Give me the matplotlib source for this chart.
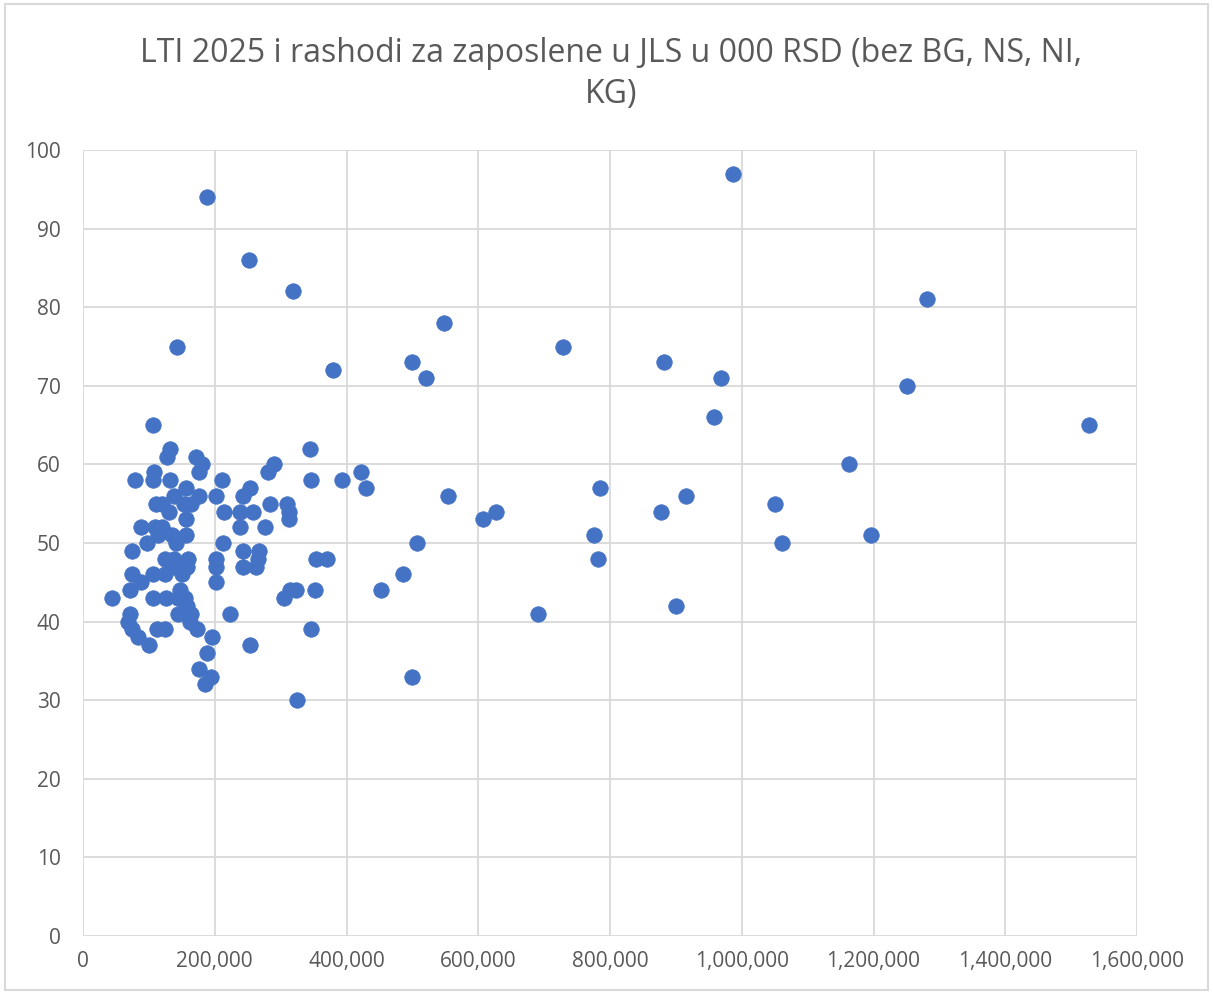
import matplotlib
matplotlib.use("Agg")
import matplotlib.pyplot as plt
from matplotlib.ticker import FuncFormatter, MultipleLocator
from matplotlib.patches import Rectangle

# Rashodi za zaposlene (000 RSD, in thousands)
rashodi_k = [
    44, 71, 68, 71, 74, 83, 100, 74, 74, 79,
    88, 88, 97, 106, 106, 108, 111, 109, 114, 106,
    106, 112, 120, 120, 124, 124, 124, 126, 127, 130,
    132, 132, 135, 138, 138, 140, 143, 141, 144, 144,
    147, 150, 153, 155, 156, 156, 156, 158, 159, 158,
    164, 164, 162, 173, 172, 176, 181, 176, 176, 188,
    188, 185, 194, 196, 202, 202, 202, 202, 211, 213,
    214, 223, 238, 238, 243, 243, 243, 253, 253, 252,
    258, 263, 266, 267, 276, 281, 284, 290, 305, 310,
    313, 313, 314, 319, 323, 325, 345, 346, 346, 354,
    352, 370, 379, 393, 422, 430, 452, 486, 499, 499,
    507, 521, 548, 554, 607, 627, 691, 729, 776, 782,
    785, 877, 882, 900, 915, 958, 968, 987, 1050, 1061,
    1163, 1196, 1251, 1281, 1527,
]
lti_2025 = [
    43, 44, 40, 41, 39, 38, 37, 49, 46, 58,
    52, 45, 50, 65, 58, 59, 55, 52, 51, 43,
    46, 39, 52, 55, 48, 46, 39, 43, 61, 54,
    62, 58, 51, 56, 48, 47, 75, 50, 43, 41,
    44, 46, 55, 43, 57, 53, 51, 47, 48, 42,
    41, 55, 40, 39, 61, 59, 60, 56, 34, 94,
    36, 32, 33, 38, 56, 48, 47, 45, 58, 50,
    54, 41, 52, 54, 56, 49, 47, 57, 37, 86,
    54, 47, 48, 49, 52, 59, 55, 60, 43, 55,
    54, 53, 44, 82, 44, 30, 62, 39, 58, 48,
    44, 48, 72, 58, 59, 57, 44, 46, 73, 33,
    50, 71, 78, 56, 53, 54, 41, 75, 51, 48,
    57, 54, 73, 42, 56, 66, 71, 97, 55, 50,
    60, 51, 70, 81, 65,
]

title = "LTI 2025 i rashodi za zaposlene u JLS u 000 RSD (bez BG, NS, NI,\nKG)"

x_vals = [v * 1000 for v in rashodi_k]

fig = plt.figure(figsize=(12.13, 9.94), dpi=100)
ax = fig.add_axes([83 / 1213, 1 - 936 / 994, (1137 - 83) / 1213, (936 - 150) / 994])

ax.scatter(x_vals, lti_2025, s=125, color="#4472C4", edgecolors="#4472C4",
           linewidths=0.5, zorder=3)

ax.set_xlim(0, 1_600_000)
ax.set_ylim(0, 100)
ax.xaxis.set_major_locator(MultipleLocator(200_000))
ax.yaxis.set_major_locator(MultipleLocator(10))
ax.xaxis.set_major_formatter(FuncFormatter(lambda v, p: f"{int(v):,}"))
ax.grid(True, color="#D9D9D9", linewidth=1.3, zorder=0)
ax.set_axisbelow(True)
for s in ax.spines.values():
    s.set_visible(False)
ax.tick_params(axis="both", length=0, labelsize=15, colors="#595959")
ax.tick_params(axis="y", pad=16)
ax.tick_params(axis="x", pad=11)
for lab in ax.get_xticklabels() + ax.get_yticklabels():
    lab.set_fontfamily("Open Sans")

fig.text(0.5035, 1 - 74 / 994, title, ha="center", va="center", fontsize=23,
         color="#595959", family="Open Sans", linespacing=1.3)

fig.patches.append(Rectangle((0.004, 0.004), 0.992, 0.992, transform=fig.transFigure,
                             fill=False, edgecolor="#D9D9D9", linewidth=1.5))

fig.savefig("out.png", dpi=100, facecolor="white")
